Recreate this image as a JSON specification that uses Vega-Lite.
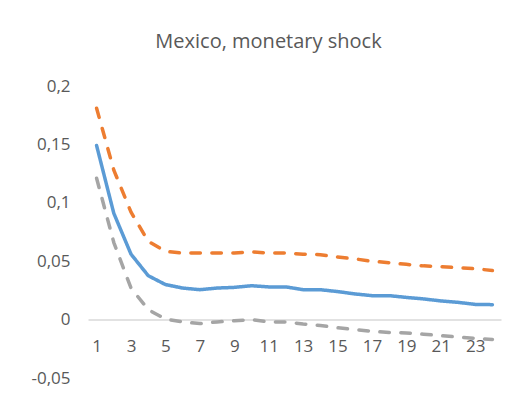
{
  "$schema": "https://vega.github.io/schema/vega-lite/v6.json",
  "width": 413,
  "height": 292,
  "autosize": {"type": "none"},
  "padding": {"left": 88, "top": 86, "right": 27, "bottom": 18},
  "background": "white",
  "title": {"text": "Mexico, monetary shock", "font": "Open Sans", "fontSize": 20, "fontWeight": "normal", "color": "#595959", "anchor": "middle", "dx": -26, "offset": 25},
  "config": {"view": {"stroke": null}},
  "data": {"values": [
    {"period": 1, "series": "median", "value": 0.149},
    {"period": 2, "series": "median", "value": 0.091},
    {"period": 3, "series": "median", "value": 0.056},
    {"period": 4, "series": "median", "value": 0.0376},
    {"period": 5, "series": "median", "value": 0.030},
    {"period": 6, "series": "median", "value": 0.027},
    {"period": 7, "series": "median", "value": 0.0256},
    {"period": 8, "series": "median", "value": 0.027},
    {"period": 9, "series": "median", "value": 0.0276},
    {"period": 10, "series": "median", "value": 0.029},
    {"period": 11, "series": "median", "value": 0.028},
    {"period": 12, "series": "median", "value": 0.028},
    {"period": 13, "series": "median", "value": 0.0256},
    {"period": 14, "series": "median", "value": 0.0256},
    {"period": 15, "series": "median", "value": 0.024},
    {"period": 16, "series": "median", "value": 0.022},
    {"period": 17, "series": "median", "value": 0.0205},
    {"period": 18, "series": "median", "value": 0.0205},
    {"period": 19, "series": "median", "value": 0.019},
    {"period": 20, "series": "median", "value": 0.0177},
    {"period": 21, "series": "median", "value": 0.016},
    {"period": 22, "series": "median", "value": 0.0148},
    {"period": 23, "series": "median", "value": 0.013},
    {"period": 24, "series": "median", "value": 0.0128},
    {"period": 1, "series": "upper", "value": 0.181},
    {"period": 2, "series": "upper", "value": 0.128},
    {"period": 3, "series": "upper", "value": 0.092},
    {"period": 4, "series": "upper", "value": 0.067},
    {"period": 5, "series": "upper", "value": 0.0584},
    {"period": 6, "series": "upper", "value": 0.057},
    {"period": 7, "series": "upper", "value": 0.057},
    {"period": 8, "series": "upper", "value": 0.057},
    {"period": 9, "series": "upper", "value": 0.057},
    {"period": 10, "series": "upper", "value": 0.058},
    {"period": 11, "series": "upper", "value": 0.057},
    {"period": 12, "series": "upper", "value": 0.057},
    {"period": 13, "series": "upper", "value": 0.056},
    {"period": 14, "series": "upper", "value": 0.0556},
    {"period": 15, "series": "upper", "value": 0.0536},
    {"period": 16, "series": "upper", "value": 0.052},
    {"period": 17, "series": "upper", "value": 0.050},
    {"period": 18, "series": "upper", "value": 0.0487},
    {"period": 19, "series": "upper", "value": 0.0473},
    {"period": 20, "series": "upper", "value": 0.046},
    {"period": 21, "series": "upper", "value": 0.0453},
    {"period": 22, "series": "upper", "value": 0.0444},
    {"period": 23, "series": "upper", "value": 0.0436},
    {"period": 24, "series": "upper", "value": 0.042},
    {"period": 1, "series": "lower", "value": 0.121},
    {"period": 2, "series": "lower", "value": 0.066},
    {"period": 3, "series": "lower", "value": 0.027},
    {"period": 4, "series": "lower", "value": 0.0085},
    {"period": 5, "series": "lower", "value": 0.0005},
    {"period": 6, "series": "lower", "value": -0.002},
    {"period": 7, "series": "lower", "value": -0.0034},
    {"period": 8, "series": "lower", "value": -0.002},
    {"period": 9, "series": "lower", "value": -0.001},
    {"period": 10, "series": "lower", "value": 0.0},
    {"period": 11, "series": "lower", "value": -0.002},
    {"period": 12, "series": "lower", "value": -0.002},
    {"period": 13, "series": "lower", "value": -0.0037},
    {"period": 14, "series": "lower", "value": -0.005},
    {"period": 15, "series": "lower", "value": -0.007},
    {"period": 16, "series": "lower", "value": -0.0085},
    {"period": 17, "series": "lower", "value": -0.010},
    {"period": 18, "series": "lower", "value": -0.011},
    {"period": 19, "series": "lower", "value": -0.0114},
    {"period": 20, "series": "lower", "value": -0.0125},
    {"period": 21, "series": "lower", "value": -0.0137},
    {"period": 22, "series": "lower", "value": -0.015},
    {"period": 23, "series": "lower", "value": -0.016},
    {"period": 24, "series": "lower", "value": -0.017}
  ]},
  "mark": {"type": "line", "strokeWidth": 3.5, "strokeCap": "round", "strokeJoin": "round"},
  "encoding": {
    "x": {
      "field": "period", "type": "ordinal",
      "scale": {"type": "point", "padding": 0.5},
      "axis": {"title": null, "values": [1, 3, 5, 7, 9, 11, 13, 15, 17, 19, 21, 23], "labelAngle": 0, "offset": -58.4, "domainColor": "#d9d9d9", "domainWidth": 1.5, "ticks": false, "grid": false, "labelPadding": 19, "labelFont": "Open Sans", "labelFontSize": 17, "labelColor": "#595959"}
    },
    "y": {
      "field": "value", "type": "quantitative",
      "scale": {"domain": [-0.05, 0.2], "nice": false, "zero": false},
      "axis": {"title": null, "values": [-0.05, 0, 0.05, 0.1, 0.15, 0.2], "labelExpr": "replace(toString(datum.value), '.', ',')", "domain": false, "ticks": false, "grid": false, "labelPadding": 18, "labelFont": "Open Sans", "labelFontSize": 17, "labelColor": "#595959"}
    },
    "color": {"field": "series", "type": "nominal", "scale": {"domain": ["median", "upper", "lower"], "range": ["#5b9bd5", "#ed7d31", "#a5a5a5"]}, "legend": null},
    "strokeDash": {"field": "series", "type": "nominal", "scale": {"domain": ["median", "upper", "lower"], "range": [[1, 0], [9.5, 11.5], [9.5, 11.5]]}, "legend": null}
  }
}
